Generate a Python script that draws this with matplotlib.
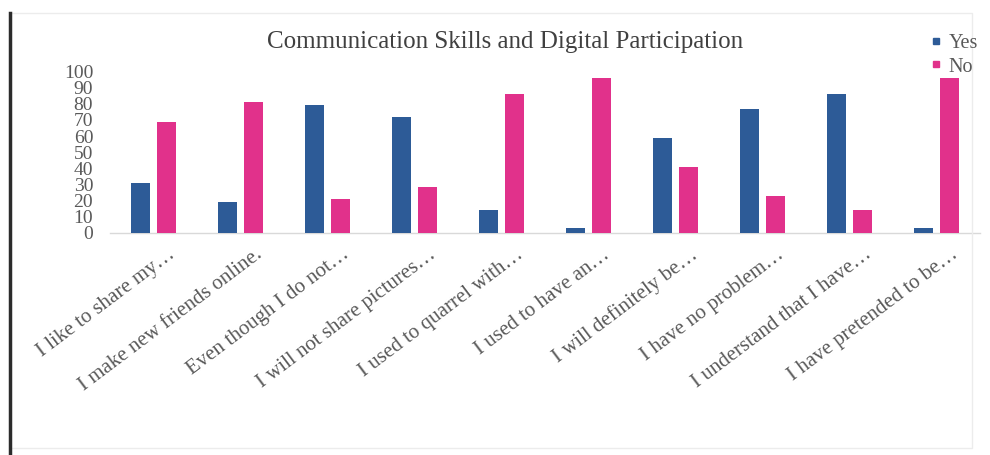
import matplotlib
matplotlib.use("Agg")
import matplotlib.pyplot as plt
import numpy as np
from matplotlib.lines import Line2D
from matplotlib.patches import Rectangle
from matplotlib.transforms import ScaledTranslation

# Survey statements (truncated as in the source table) and response shares (%)
statements = [
    "I like to share my…",
    "I make new friends online.",
    "Even though I do not…",
    "I will not share pictures…",
    "I used to quarrel with…",
    "I used to have an…",
    "I will definitely be…",
    "I have no problem…",
    "I understand that I have…",
    "I have pretended to be…",
]
yes_pct = [31, 19, 79, 72, 14, 3, 59, 77, 86, 3]
no_pct = [69, 81, 21, 28, 86, 96, 41, 23, 14, 96]
y_ticks = list(range(0, 101, 10))

YES_COLOR = "#2d5b97"
NO_COLOR = "#e1318b"
TEXT_GREY = "#595959"

plt.rcParams["font.family"] = ["Liberation Serif", "DejaVu Serif"]

fig = plt.figure(figsize=(9.9, 4.55), dpi=100)
ax = fig.add_axes([0.111, 0.489, 0.879, 0.3534])

x = np.arange(len(statements))
w = 0.215
off = 0.147
ax.bar(x - off, yes_pct, width=w, color=YES_COLOR, label="Yes", zorder=3)
ax.bar(x + off, no_pct, width=w, color=NO_COLOR, label="No", zorder=3)

ax.set_xlim(-0.5, len(statements) - 0.5)
ax.set_ylim(0, 100)
ax.set_yticks(y_ticks)
ax.set_yticklabels([str(t) for t in y_ticks], fontsize=14, color=TEXT_GREY)
ax.tick_params(axis="y", length=0, pad=12)
ax.set_xticks(x)
ax.set_xticklabels(statements, rotation=37, ha="right", rotation_mode="anchor",
                   fontsize=15, color=TEXT_GREY)
ax.tick_params(axis="x", length=0, pad=9)
shift = ScaledTranslation(0.14, 0, fig.dpi_scale_trans)
for lbl in ax.get_xticklabels():
    lbl.set_transform(lbl.get_transform() + shift)

for side in ("top", "right", "left"):
    ax.spines[side].set_visible(False)
ax.spines["bottom"].set_color("#d9d9d9")
ax.spines["bottom"].set_linewidth(1.0)

fig.text(0.51, 0.908, "Communication Skills and Digital Participation",
         ha="center", va="center", fontsize=18, color="#404040")

handles = [
    Line2D([], [], marker="s", linestyle="none", markersize=5,
           markerfacecolor=YES_COLOR, markeredgecolor=YES_COLOR),
    Line2D([], [], marker="s", linestyle="none", markersize=5,
           markerfacecolor=NO_COLOR, markeredgecolor=NO_COLOR),
]
leg = fig.legend(handles, ["Yes", "No"], loc="upper right",
                 bbox_to_anchor=(1.0, 0.952), frameon=False, fontsize=14.5,
                 handlelength=0.6, handletextpad=0.3, labelspacing=0.22,
                 borderaxespad=0.2)
for t in leg.get_texts():
    t.set_color(TEXT_GREY)

# Chart frame: faint outline plus the dark left edge
fig.add_artist(Rectangle((0.0101, 0.015), 0.972, 0.957, transform=fig.transFigure,
                         fill=False, edgecolor="#ececec", linewidth=1.0))
fig.add_artist(Line2D([0.0101, 0.0101], [0.0, 0.972], transform=fig.transFigure,
                      color="#2b2b2b", linewidth=2.5))

fig.savefig("out.png", dpi=100, facecolor="white")
